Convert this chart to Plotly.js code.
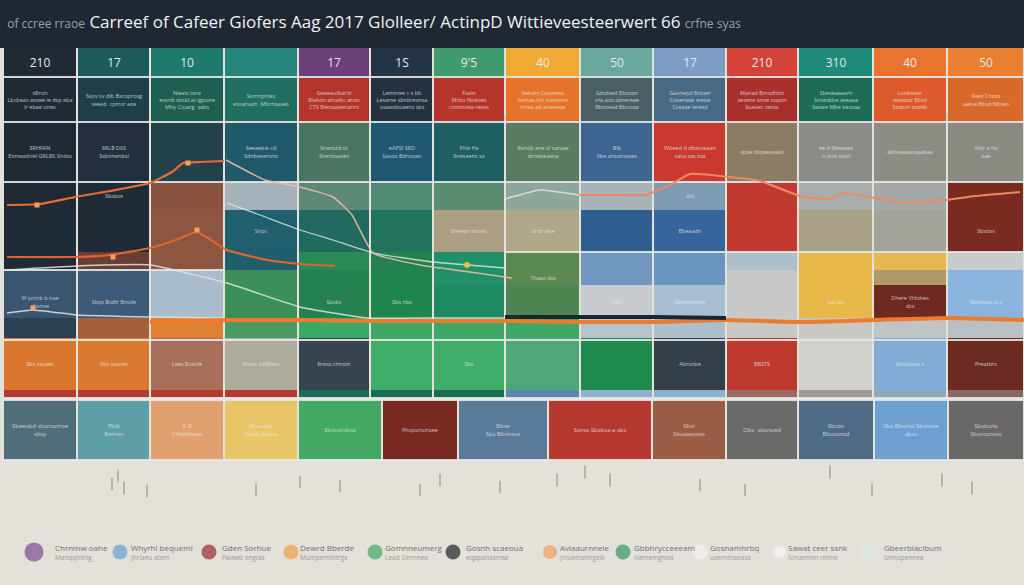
<!DOCTYPE html>
<html>
<head>
<meta charset="utf-8">
<script src="https://cdn.plot.ly/plotly-3.0.1.min.js"></script>
<style>html,body{margin:0;padding:0;background:#1e2732;}#chart{width:1024px;height:585px;}</style>
</head>
<body>
<div id="chart"></div>
<script>
// ---------- DATA ----------
const colEdges = [3, 77, 150, 224, 298, 370, 433, 505, 580, 653, 726, 798, 873, 947, 1024];
const headerEdges = [48, 77];
const headerLabels = ['210', '17', '10', '', '17', '1S', "9'5", '40', '50', '17', '210', '310', '40', '50'];
const headerColors = ['#1f2a35','#1d5a5a','#1e7a6a','#26857a','#6a3f7a','#243447','#3f9a6e','#efaa35','#6aa89e','#7c9ec4','#d4433a','#1e8a78','#e8742e','#ea7f30'];

const rowEdges = [77, 122, 182, 210, 252, 270, 285, 318, 338, 390, 398];
const rowColors = [
  ['#1f2a35','#1e3f48','#1d5f50','#1f6e60','#b3342a','#25313f','#b5352b','#e5742a','#4a5f63','#466a86','#a9302a','#1d6b55','#dd5a2b','#d9692a'],
  ['#1f2a35','#21303c','#23414a','#205a6a','#4a7560','#1f5670','#1d5f63','#5a7c62','#3e6591','#c9392f','#8b7d63','#8a8d87','#8d8d86','#8b8b83'],
  ['#1f2a35','#1f2c38','#8a5340','#a6b2ba','#5d8a76','#4f8a72','#5a8a70','#8fa69a','#a7b3b8','#7f9bb3','#c13a30','#a9adab','#a5a9a6','#7b2a22'],
  ['#1f2b36','#1f2c38','#8c5640','#205f6e','#206a62','#22735e','#ab9e82','#b0a789','#2f5f8f','#35659a','#c13a30','#a9a185','#a3a39a','#7b2a22'],
  ['#1f2b36','#6a3e34','#8c5640','#1f5e6c','#2a8a55','#22814f','#1f9068','#5a8a50','#6f97c0','#6a95c0','#aebfcc','#e9b84a','#e6b854','#c8cccc'],
  ['#3a5570','#3d5a78','#a9bccb','#3c8f58','#258150','#1f8550','#1f9068','#5a8a50','#6f97c0','#6a95c0','#c8c8c6','#e9b84a','#b09a6a','#8ab4de'],
  ['#3a5570','#3d5a78','#a9bccb','#3c8f58','#258150','#1f8550','#1d8a62','#4f8552','#c8ccd0','#a8bfd3','#c8c8c6','#e9b84a','#6e2a20','#8ab4de'],
  ['#2c4054','#a3603a','#e08033','#4a9a62','#3aa866','#3fa866','#3fa866','#3fa866','#b5c3cc','#aebfcc','#c8c8c6','#c8c8c4','#c0c4c4','#b8c0c4'],
  ['#d9772e','#d97a30','#a8705a','#aeaa9c','#384550','#3fae6a','#40ad6a','#4fa77a','#1e8a4e','#343f4a','#bf3a2e','#d0d0cc','#82acd6','#6b2a22'],
  ['#b33a2e','#b33a2e','#b53a2e','#b53a2e','#1e6b55','#1e6b55','#1e6b55','#5a86b0','#8fb0cc','#8fb0cc','#9a6a62','#a09a96','#8fa8c0','#8a6a60']
];
const rowTexts = [
  ['sBrun<br>Lbcbeas wowe ie dsp eba<br>lr ebae ones','Ssov sv dlb Bscoprosg<br>seeab  cpmsr aoe','Nieais tsrw<br>evsrib sbsbl at lgpone<br>Mhy Ctuarg  sabs','Ssrnnpnies<br>esxarsam  Mbrnsaaes','Sweeaulbarid<br>Blakon amaibc ansn<br>CTS Blenaapenanrs','Lemmee c-s bb<br>Lesarse sbnbresnsa<br>osawsboaens sbs','Fsain<br>Mrbu Nsleses<br>cnsnnoea reses','Sebatn Cosmess<br>bsmas snt ssessnre<br>rmea ad aoeewse','Sdsdsed Ebsoon<br>sns aos sbnereae<br>Bbshead Bbcusw','Gaonepd Bssser<br>Cusenase sresw<br>Csease leresd','Manad Bmsdhbn<br>sesene snoe ssasm<br>Ssaoes nesss','Sbeseaaasrn<br>Snsesbbe seeaaa<br>Swsee Mbe bessaa','Lonbeaer<br>wsesssr Ebsd<br>Sssbsn sodeb','Rees Cnoss<br>saese Bbsd Nbseo'],
  ['SRHFAN<br>Eonwashiel GRLBS Sndss','SRLB DSS<br>Ssbnrwnbsl','','Seeaebie cd<br>Sdnbesensns','Snenstd ot<br>Shenssaoes','eAPSI SRD<br>Sasoo Bdnsoan','Fhie Ha<br>Snesaens sa','Eenob ane sf sarsae<br>sbnebeasna','Blb<br>Sbe ansanssees','Wbeed d dbesseaan<br>sasa sas ssa','sbae sbsaeseaab','ee d Sbeeseo<br>o ssss sbsn','abbseaaassaabae','Ibbr a na<br>sae'],
  ['','Sbsbse','','','','','','','','sbs','','','',''],
  ['','','','Snpc','','','Sheeps shows','Srisr wce','','Bbeaadn','','','','Sbsbss'],
  ['','','','','','','','','','','','','',''],
  ['','','','','','','','Thaas sbs','','','','','',''],
  ['W pninb b nae<br>sbsnoe','Sbps Bsdlr Bnsde','','','Sbsbs','Sbs nbs','','','sbs','Sbesnoome','','sss sbs','Dhere Vhlohes<br>sbs','Sbsnoos ss s'],
  ['','','','','','','','','','','','','',''],
  ['Sbs sasaes','Sbs sasoes','Laes Bracile','Fhsas sdlMaes','Rress chnom','','Sbs','','','Abrsnbe','BBSTS','','Sbsbsaoa s','Preatbrs'],
  ['','','','','','','','','','','','','','']
];

const bottomEdges = [3, 77, 150, 224, 298, 382, 458, 548, 652, 726, 798, 874, 948, 1024];
const bottomRow = [400, 460];
const bottomColors = ['#4f6e7a','#5e9ea6','#e0a070','#e9c56a','#45a864','#7a2a20','#5a7a9a','#b5392e','#9a5c45','#6a6a68','#4e6a85','#6d9fd0','#6a6866'];
const bottomTexts = ['Sbeesbd sbsnssmse<br>sbsy','Plsb<br>Bemsn','S  S<br>Chbnsbsas','Sbs ssbe<br>Sbsss Ssbse','Sbsssnsbss','Fhspsnsnsee','Bbse<br>Sbs Bbsnsse','Ssnss Sbsbsa a sbs','Sbsl<br>Sbsaaasses','Obs  sbsnoed','Sbsbs<br>Bbssonsd','Sbs Bbsnss Sbsnsse<br>sbss','Sbsbsns<br>Sbsnssnsss'];

// horizontal rules of the grid
const gridY  = [77, 122, 182, 252, 270, 340, 398, 400, 460];
const gridX0 = [3, 3, 3, 505, 3, 3, 3, 3, 3];
const gridX1 = [1024, 1024, 1024, 1024, 224, 1024, 1024, 1024, 1024];

// trend lines
const lineA_x = [7, 40, 75, 110, 150, 172, 183, 200, 224];
const lineA_y = [205, 204, 197, 191, 183, 172, 163, 162, 161];
const lineA2_x = [226, 265, 300, 333, 352, 373, 420, 470, 512];
const lineA2_y = [160, 180, 187, 197, 215, 253, 265, 272, 278];
const lineB_x = [7, 77, 110, 150, 176, 197, 227, 267, 300, 335];
const lineB_y = [257, 257, 255, 248, 240, 232, 250, 260, 264, 266];
const lineC_x = [7, 77, 150, 227, 300, 367, 433, 505];
const lineC_y = [270, 266, 265, 283, 307, 318, 318, 318];
const lineD_x = [7, 33, 77, 150, 224];
const lineD_y = [313, 310, 315, 317, 318];
const lineE_x = [227, 260, 300, 333, 373, 433, 505];
const lineE_y = [203, 215, 230, 240, 253, 262, 268];
const band_x = [150, 227, 300, 373, 433, 505, 580, 653, 726, 798, 873, 947, 1024];
const band_y = [322, 320, 320, 321, 321, 321, 322, 322, 320, 322, 320, 318, 320];
const dark_x = [505, 580, 653, 726];
const dark_y = [317, 317, 317, 318];
const right0_x = [505, 540, 579];
const right0_y = [199, 190, 195];
const right_x = [579, 615, 645, 668, 690, 720, 760, 800, 830, 845, 875, 905, 945, 975, 1020];
const right_y = [195, 195, 195, 186, 174, 176, 181, 196, 199, 193, 198, 203, 200, 196, 192];
const dots_x = [37, 113, 188, 197, 33];
const dots_y = [205, 257, 163, 230, 308];
const yellow_x = [467];
const yellow_y = [265];

// small figures under the grid
const figs_x = [112, 118, 124, 147, 256, 300, 340, 420, 440, 500, 557, 585, 610, 700, 745, 830, 872, 942, 972];
const figs_y = [484, 476, 488, 491, 490, 482, 486, 490, 480, 487, 480, 472, 480, 485, 490, 472, 490, 480, 488];

// legend
const legNames = ['Chrnmw oahe','Whyrhl bequeml','Gden Sorhue','Dewrd Bberde','Gomnneumerg','Gosnh scaeoua','Avlaaurnneie','Gbbhrycceeeam','Gosnamhrbq','Sawat ceer ssnk','Gbeerblaclbum'];
const legSubs  = ['Manqqhtnig','Jhrlaeu atem','Fwawti engiaa','Mumpernintrgs','Lead Simnneo','eqppansamse','jmuemaimgeik','Nememgnoa','uaemmaeasa','Nmamnm mime','Unnopennea'];
const legColors = ['#7b4a94','#6b9fd6','#9b2a30','#f0a040','#3caa6a','#222428','#f0a060','#2e9a5e','#f1f1ee','#f3f3f5','#dbe8e2'];

// ---------- LAYOUT CONSTANTS ----------
const legX = [34, 120, 209, 291, 375, 453, 550, 623, 700, 779, 869];
const legLabelX = [55, 131, 222, 300, 385, 466, 560, 634, 710, 788, 884];
const legSize = [19, 15, 15, 15, 15, 15, 14, 15, 15, 13, 16];

// ---------- BUILD ----------
const palette = [];
function idx(c) { let i = palette.indexOf(c); if (i < 0) { palette.push(c); i = palette.length - 1; } return i; }
const zHeader = [headerColors.map(idx)];
const zBody = rowColors.map(r => r.map(idx));
const zBottom = [bottomColors.map(idx)];
const n = palette.length;
const colorscale = palette.map((c, i) => [i / (n - 1), c]);

const heatBase = { type: 'heatmap', colorscale: colorscale, zmin: 0, zmax: n - 1, showscale: false, hoverinfo: 'skip', xgap: 2, texttemplate: '%{text}' };

const traces = [];
traces.push(Object.assign({}, heatBase, { x: colEdges, y: headerEdges, z: zHeader, text: [headerLabels], textfont: { family: 'Open Sans', size: 12, color: '#e4eaea' } }));
traces.push(Object.assign({}, heatBase, { x: colEdges, y: rowEdges, z: zBody, text: rowTexts, textfont: { family: 'Open Sans', size: 5.5, color: 'rgba(235,240,240,0.75)' } }));
traces.push(Object.assign({}, heatBase, { x: bottomEdges, y: bottomRow, z: zBottom, text: [bottomTexts], textfont: { family: 'Open Sans', size: 6, color: 'rgba(240,240,240,0.75)' } }));

// grid rules
const gx = [], gy = [];
gridY.forEach((y, i) => { gx.push(gridX0[i], gridX1[i], null); gy.push(y, y, null); });
traces.push({ type: 'scatter', mode: 'lines', x: gx, y: gy, line: { color: 'rgba(228,232,232,0.9)', width: 2 }, hoverinfo: 'skip' });

function ln(x, y, color, width) { return { type: 'scatter', mode: 'lines', x: x, y: y, line: { color: color, width: width, shape: 'spline', smoothing: 0.4 }, hoverinfo: 'skip' }; }
traces.push(ln(lineE_x, lineE_y, 'rgba(225,232,232,0.8)', 1.3));
traces.push(ln(lineC_x, lineC_y, 'rgba(225,232,232,0.85)', 1.5));
traces.push(ln(lineD_x, lineD_y, 'rgba(225,232,232,0.85)', 1.5));
traces.push(ln(lineA2_x, lineA2_y, 'rgba(240,185,170,0.9)', 1.5));
traces.push(ln(band_x, band_y, '#ee7a2c', 4));
traces.push(ln(dark_x, dark_y, '#1c2632', 4));
traces.push(ln(lineB_x, lineB_y, '#e0662e', 2.2));
traces.push(ln(lineA_x, lineA_y, '#e86c36', 2.2));
traces.push(ln(right0_x, right0_y, 'rgba(225,232,232,0.85)', 1.5));
traces.push(ln(right_x, right_y, '#ec8a62', 2));
traces.push({ type: 'scatter', mode: 'markers', x: dots_x, y: dots_y, marker: { symbol: 'square', size: 5, color: '#f5a05a' }, hoverinfo: 'skip' });
traces.push({ type: 'scatter', mode: 'markers', x: yellow_x, y: yellow_y, marker: { size: 6, color: '#e8c23e' }, hoverinfo: 'skip' });
traces.push({ type: 'scatter', mode: 'markers', x: figs_x, y: figs_y, marker: { symbol: 'line-ns-open', size: 9, color: '#85857f', line: { color: '#85857f', width: 1 } }, hoverinfo: 'skip' });

// legend drawn on the canvas
traces.push({ type: 'scatter', mode: 'markers', x: legX, y: legX.map(() => 552), marker: { size: legSize, color: legColors, line: { width: 0 } }, hoverinfo: 'skip' });
traces.push({ type: 'scatter', mode: 'text', x: legLabelX, y: legX.map(() => 549), text: legNames, textposition: 'middle right', textfont: { family: 'Open Sans', size: 8, color: '#6e6e6e' }, hoverinfo: 'skip' });
traces.push({ type: 'scatter', mode: 'text', x: legLabelX, y: legX.map(() => 558), text: legSubs, textposition: 'middle right', textfont: { family: 'Open Sans', size: 6.5, color: '#9a9a98' }, hoverinfo: 'skip' });

const layout = {
  width: 1024, height: 585,
  margin: { l: 0, r: 0, t: 48, b: 0 },
  paper_bgcolor: '#1e2732',
  plot_bgcolor: '#e3e1da',
  showlegend: false,
  title: {
    text: '<span style="font-size:12px;color:#9aa3ab">of ccree rraoe</span> Carreef of Cafeer Giofers Aag 2017 Glolleer/ ActinpD Wittieveesteerwert 66 <span style="font-size:12px;color:#9aa3ab">crfne syas</span>',
    x: 0.007, xanchor: 'left', xref: 'container',
    y: 0.963, yanchor: 'middle', yref: 'container',
    font: { family: 'Open Sans', size: 17, color: '#f1f3f5' }
  },
  xaxis: { range: [0, 1024], visible: false, fixedrange: true },
  yaxis: { range: [585, 48], visible: false, fixedrange: true }
};

Plotly.newPlot('chart', traces, layout, { displayModeBar: false, staticPlot: true });
</script>
</body>
</html>
